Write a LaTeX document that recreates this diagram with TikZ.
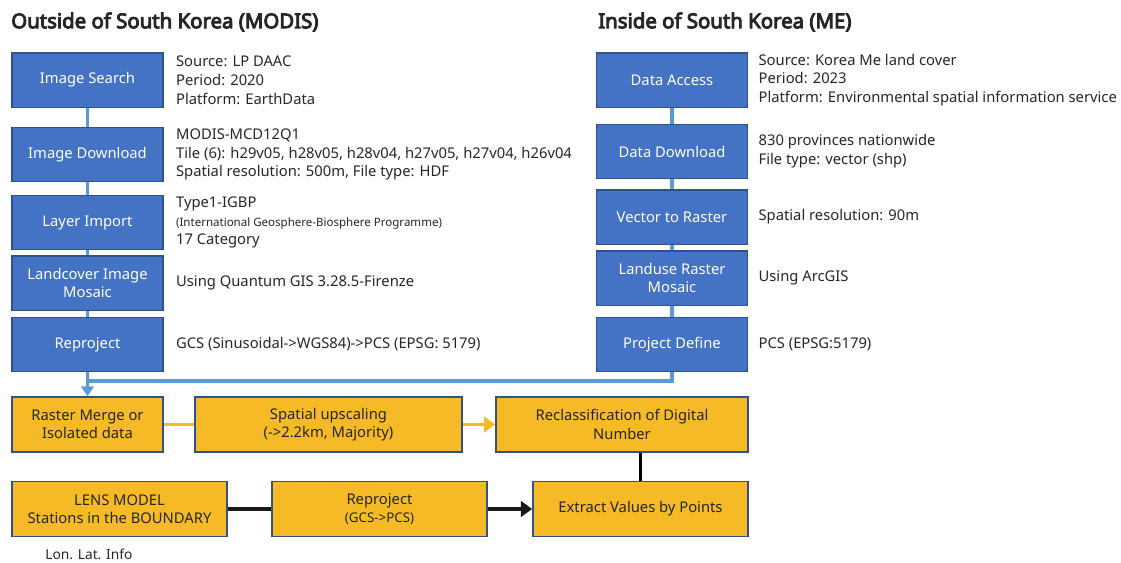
\documentclass[tikz,border=0pt]{standalone}
\usepackage{fontspec}
\setmainfont{Noto Sans}
\newfontfamily\headfont{Noto Sans}[FakeBold=4.5]
\usepackage{tikz}
\usetikzlibrary{positioning, arrows.meta}

\definecolor{boxblue}{HTML}{4472C4}
\definecolor{edgeblue}{HTML}{2F528F}
\definecolor{lineblue}{HTML}{5B9BD5}
\definecolor{boxgold}{HTML}{F5BA26}

\begin{document}
\begin{tikzpicture}[
    x=0.025cm, y=-0.025cm,
    bluebox/.style={draw=edgeblue, line width=1pt, fill=boxblue, text=white,
                    align=center, font=\fontsize{10.5}{13}\selectfont,
                    minimum width=3.78cm, minimum height=1.36cm, inner sep=2pt},
    goldbox/.style={draw=edgeblue, line width=1pt, fill=boxgold, text=black!85,
                    align=center, font=\fontsize{10.5}{13}\selectfont,
                    minimum height=1.38cm, inner sep=2pt},
    info/.style={align=left, inner sep=0pt, text=black!85,
                 font=\fontsize{10.5}{13.4}\selectfont},
    heading/.style={anchor=west, inner sep=0pt, text=black!85,
                    font=\fontsize{14.5}{17}\headfont},
    bline/.style={draw=lineblue, line width=2.2pt},
    gline/.style={draw=boxgold, line width=2.8pt},
    kline/.style={draw=black!90, line width=3pt}
]
\useasboundingbox (0,0) rectangle (1121,562);

% headings
\node[heading] (hout) at (11,22) {Outside of South Korea (MODIS)};
\node[heading] (hin)  at (598,22) {Inside of South Korea (ME)};

% MODIS chain
\node[bluebox] (srch)   at (87.5,80)    {Image Search};
\node[bluebox] (dl)     at (87.5,154.5) {Image Download};
\node[bluebox] (imp)    at (87.5,222.5) {Layer Import};
\node[bluebox] (mos)    at (87.5,283)   {Landcover Image\\Mosaic};
\node[bluebox] (reproj) at (87.5,344.5) {Reproject};

\node[info, right=0.3cm of srch]   (srchinfo)   {Source: LP DAAC\\Period: 2020\\Platform: EarthData};
\node[info, right=0.3cm of dl]     (dlinfo)     {MODIS-MCD12Q1\\Tile (6): h29v05, h28v05, h28v04, h27v05, h27v04, h26v04\\Spatial resolution: 500m, File type: HDF};
\node[info, right=0.3cm of imp]    (impinfo)    {Type1-IGBP\\{\fontsize{8.2}{11}\selectfont(International Geosphere-Biosphere Programme)}\\17 Category};
\node[info, right=0.3cm of mos]    (mosinfo)    {Using Quantum GIS 3.28.5-Firenze};
\node[info, right=0.3cm of reproj] (reprojinfo) {GCS (Sinusoidal->WGS84)->PCS (EPSG: 5179)};

% ME chain
\node[bluebox] (acc)  at (672,80)    {Data Access};
\node[bluebox] (ddl)  at (672,151.5) {Data Download};
\node[bluebox] (v2r)  at (672,217)   {Vector to Raster};
\node[bluebox] (lrm)  at (672,278)   {Landuse Raster\\Mosaic};
\node[bluebox] (pdef) at (672,344.5) {Project Define};

\node[info, right=0.25cm of acc]  (accinfo)  {Source: Korea Me land cover\\Period: 2023\\Platform: Environmental spatial information service};
\node[info, right=0.25cm of ddl]  (ddlinfo)  {830 provinces nationwide\\File type: vector (shp)};
\node[info, right=0.25cm of v2r]  (v2rinfo)  {Spatial resolution: 90m};
\node[info, right=0.25cm of lrm]  (lrminfo)  {Using ArcGIS};
\node[info, right=0.25cm of pdef] (pdefinfo) {PCS (EPSG:5179)};

% processing
\node[goldbox, minimum width=3.78cm] (merge) at (87.5,424.5)  {Raster Merge or\\Isolated data};
\node[goldbox, minimum width=6.68cm] (ups)   at (328.5,424.5) {Spatial upscaling\\(->2.2km, Majority)};
\node[goldbox, minimum width=6.3cm]  (recl)  at (622,424.5)   {Reclassification of Digital\\Number};
\node[goldbox, minimum width=5.38cm] (lens)  at (119.5,509)   {LENS MODEL\\Stations in the BOUNDARY};
\node[goldbox, minimum width=5.38cm] (rp2)   at (379.5,509)   {Reproject\\{\fontsize{9.5}{12}\selectfont(GCS->PCS)}};
\node[goldbox, minimum width=5.38cm] (ext)   at (640.5,509)   {Extract Values by Points};
\node[info, anchor=west, font=\fontsize{9.8}{12}\selectfont] (lonlat) at (45,554) {Lon. Lat. Info};

% connectors
\draw[bline] (srch) -- (dl);
\draw[bline] (dl)   -- (imp);
\draw[bline] (imp)  -- (mos);
\draw[bline] (mos)  -- (reproj);
\draw[bline] (acc)  -- (ddl);
\draw[bline] (ddl)  -- (v2r);
\draw[bline] (v2r)  -- (lrm);
\draw[bline] (lrm)  -- (pdef);
\coordinate (join) at (87.5,381);
\draw[bline] (pdef.south) |- (join);
\draw[bline, -{Triangle[length=7pt, width=9pt]}] (reproj) -- (merge);

\draw[gline] (merge) -- (ups);
\draw[gline, -{Triangle[length=8pt, width=11pt]}] (ups) -- (recl);
\draw[kline] (lens) -- (rp2);
\draw[kline, -{Triangle[length=8pt, width=11pt]}] (rp2) -- (ext);
\draw[black, line width=1.5pt] (ext.north) -- (ext.north |- recl.south);
\end{tikzpicture}
\end{document}
